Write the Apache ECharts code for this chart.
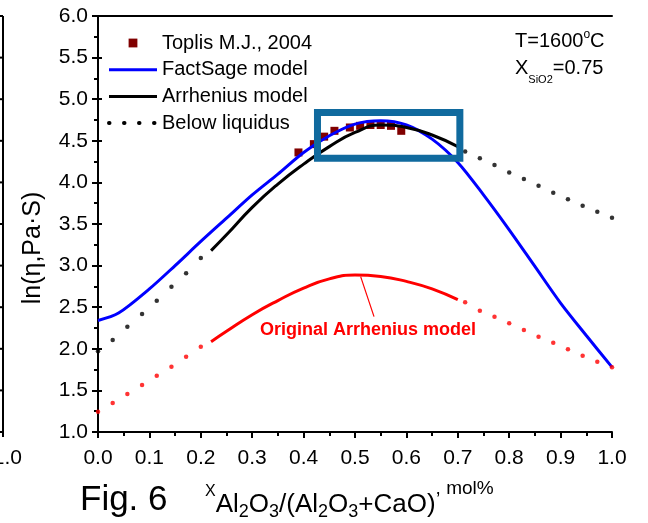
<!DOCTYPE html>
<html>
<head>
<meta charset="utf-8">
<script src="https://cdn.jsdelivr.net/npm/echarts@6/dist/echarts.min.js"></script>
<style>
  html, body { margin: 0; padding: 0; background: #fff; }
  #chart { width: 648px; height: 523px; }
</style>
</head>
<body>
<div id="chart"></div>
<script>
const FONT = '"Liberation Sans", Arial, sans-serif';

// Axis ranges
const xMin = 0, xMax = 1, xStep = 0.1;
const yMin = 1, yMax = 6, yStep = 0.5;

// Toplis M.J., 2004 measurements
const toplisX = [0.39, 0.42, 0.44, 0.46, 0.49, 0.51, 0.53, 0.55, 0.57, 0.59];
const toplisY = [4.36, 4.46, 4.55, 4.62, 4.66, 4.68, 4.69, 4.69, 4.68, 4.62];

// FactSage model
const factX = [0, 0.04, 0.1, 0.15, 0.2, 0.25, 0.3, 0.35, 0.4, 0.45, 0.5, 0.55, 0.6, 0.65, 0.7, 0.75, 0.8, 0.85, 0.9, 0.95, 1.0];
const factY = [2.34, 2.43, 2.72, 3.0, 3.29, 3.57, 3.85, 4.1, 4.36, 4.56, 4.7, 4.74, 4.69, 4.52, 4.24, 3.85, 3.43, 2.99, 2.55, 2.16, 1.78];

// Arrhenius model, liquid range
const arrX = [0.22, 0.25, 0.3, 0.35, 0.4, 0.45, 0.5, 0.55, 0.6, 0.65, 0.7];
const arrY = [3.18, 3.37, 3.7, 3.98, 4.22, 4.43, 4.6, 4.69, 4.66, 4.57, 4.43];

// Arrhenius model below liquidus
const belowLowX  = [0, 0.0286, 0.0571, 0.0857, 0.1143, 0.1429, 0.1714, 0.2];
const belowLowY  = [1.97, 2.106, 2.266, 2.418, 2.578, 2.746, 2.907, 3.09];
const belowHighX = [0.7143, 0.7429, 0.7714, 0.8, 0.8286, 0.8571, 0.8857, 0.9143, 0.9429, 0.9714, 1.0];
const belowHighY = [4.37, 4.29, 4.21, 4.12, 4.04, 3.96, 3.876, 3.797, 3.72, 3.648, 3.576];

// Original Arrhenius model, liquid range
const origX = [0.22, 0.25, 0.3, 0.35, 0.4, 0.45, 0.5, 0.55, 0.6, 0.65, 0.7];
const origY = [2.085, 2.21, 2.41, 2.58, 2.73, 2.84, 2.887, 2.87, 2.81, 2.72, 2.59];

// Original Arrhenius model below liquidus
const origLowX  = [0, 0.0286, 0.0571, 0.0857, 0.1143, 0.1429, 0.1714, 0.2];
const origLowY  = [1.244, 1.35, 1.457, 1.565, 1.677, 1.785, 1.905, 2.025];
const origHighX = [0.7143, 0.7429, 0.7714, 0.8, 0.8286, 0.8571, 0.8857, 0.9143, 0.9429, 0.9714, 1.0];
const origHighY = [2.56, 2.458, 2.386, 2.306, 2.226, 2.145, 2.073, 1.994, 1.917, 1.845, 1.778];

// Highlighted region and arrow pointing at the original model
const boxX = [0.427, 0.704];
const boxY = [4.29, 4.84];
const arrowFrom = [0.511, 2.867];
const arrowTo = [0.537, 2.386];

const zip = (xs, ys) => xs.map((x, i) => [x, ys[i]]);

const chart = echarts.init(document.getElementById('chart'), null, { renderer: 'canvas' });

// Measure text so sub/superscript pieces can be laid out side by side
const ctx = document.createElement('canvas').getContext('2d');
function textWidth(str, size, weight) {
  ctx.font = (weight || 'normal') + ' ' + size + 'px ' + FONT;
  return ctx.measureText(str).width;
}
function runText(x0, pieces) {
  const out = [];
  let x = x0;
  pieces.forEach(p => {
    out.push({
      type: 'text', x: x, y: p.y, silent: true,
      style: { text: p.t, fontSize: p.s, fontFamily: FONT, fill: '#000', verticalAlign: 'middle', align: 'left' }
    });
    x += textWidth(p.t, p.s);
  });
  return out;
}

const labelFmt = v => v.toFixed(1);
const axisLineStyle = { color: '#000', width: 2 };

const graphics = [
  // Temperature and mole fraction annotation
  ...runText(515, [
    { t: 'T=1600', s: 20, y: 41 },
    { t: 'o', s: 12, y: 35 },
    { t: 'C', s: 20, y: 41 }
  ]),
  ...runText(515, [
    { t: 'X', s: 20, y: 68 },
    { t: 'SiO2', s: 11, y: 80 },
    { t: '=0.75', s: 20, y: 68 }
  ]),
  // y axis title
  { type: 'text', x: 33, y: 248, rotation: Math.PI / 2, silent: true,
    style: { text: 'ln(\u03b7,Pa\u00b7S)', fontSize: 25, fontFamily: FONT, fill: '#000',
             align: 'center', verticalAlign: 'middle' } },
  // Caption under the x axis
  { type: 'text', x: 80, y: 500, silent: true,
    style: { text: 'Fig. 6', fontSize: 35, fontFamily: FONT, fill: '#000', verticalAlign: 'middle' } },
  ...runText(205, [
    { t: 'X', s: 16, y: 492 },
    { t: 'Al', s: 26, y: 505 },
    { t: '2', s: 18, y: 512 },
    { t: 'O', s: 26, y: 505 },
    { t: '3', s: 18, y: 512 },
    { t: '/(Al', s: 26, y: 505 },
    { t: '2', s: 18, y: 512 },
    { t: 'O', s: 26, y: 505 },
    { t: '3', s: 18, y: 512 },
    { t: '+CaO)', s: 26, y: 505 },
    { t: ', mol%', s: 19, y: 489 }
  ]),
  // Label of the original model
  { type: 'text', x: 368, y: 330, silent: true,
    style: { text: 'Original Arrhenius model', fontSize: 18, fontWeight: 'bold', fontFamily: FONT,
             fill: '#ff0000', align: 'center', verticalAlign: 'middle' } },
  // Edge of the neighbouring panel
  { type: 'line', silent: true, shape: { x1: 3, y1: 16, x2: 3, y2: 437 }, style: { stroke: '#000', lineWidth: 2 } },
  { type: 'text', x: 22, y: 458, silent: true,
    style: { text: '1.0', fontSize: 21, fontFamily: FONT, fill: '#000', align: 'right', verticalAlign: 'middle' } }
];
for (let k = 0; k <= 10; k++) {
  const y = 16 + k * 41.6;
  graphics.push({ type: 'line', silent: true, shape: { x1: 0, y1: y, x2: 3, y2: y }, style: { stroke: '#000', lineWidth: 2 } });
}

const hiddenSymbol = { opacity: 0 };

const option = {
  backgroundColor: '#fff',
  animation: false,
  textStyle: { fontFamily: FONT },
  grid: { left: 98, right: 36, top: 16, bottom: 91, containLabel: false },
  legend: {
    orient: 'vertical', left: 107, top: 33, padding: 0,
    itemWidth: 48, itemHeight: 11, itemGap: 6.7,
    textStyle: { fontSize: 20, color: '#000', fontFamily: FONT, lineHeight: 20 },
    data: [
      { name: 'Toplis M.J., 2004' },
      { name: 'FactSage model', itemStyle: hiddenSymbol, lineStyle: { width: 3, color: '#0000ff' } },
      { name: 'Arrhenius model', itemStyle: hiddenSymbol, lineStyle: { width: 3, color: '#000' } },
      { name: 'Below liquidus', itemStyle: hiddenSymbol,
        lineStyle: { width: 4, color: '#000', type: [0.5, 14.5], cap: 'round' } }
    ],
    selectedMode: false
  },
  xAxis: [
    {
      type: 'value', min: xMin, max: xMax, interval: xStep,
      axisLine: { show: true, lineStyle: axisLineStyle },
      axisTick: { show: true, inside: false, length: 6, lineStyle: { color: '#000', width: 2 } },
      minorTick: { show: true, splitNumber: 2, length: 4, lineStyle: { color: '#000', width: 2 } },
      axisLabel: { fontSize: 21, color: '#000', margin: 16, formatter: labelFmt, fontFamily: FONT },
      splitLine: { show: false }
    },
    {
      type: 'value', position: 'top', min: xMin, max: xMax, interval: xStep,
      axisLine: { show: true, lineStyle: axisLineStyle },
      axisTick: { show: false }, axisLabel: { show: false }, splitLine: { show: false }
    }
  ],
  yAxis: [
    {
      type: 'value', min: yMin, max: yMax, interval: yStep,
      axisLine: { show: true, lineStyle: axisLineStyle },
      axisTick: { show: true, inside: false, length: 6, lineStyle: { color: '#000', width: 2 } },
      minorTick: { show: true, splitNumber: 2, length: 4, lineStyle: { color: '#000', width: 2 } },
      axisLabel: { fontSize: 21, color: '#000', margin: 10, formatter: labelFmt, fontFamily: FONT },
      splitLine: { show: false }
    },
    {
      type: 'value', position: 'right', min: yMin, max: yMax, interval: yStep,
      axisLine: { show: true, lineStyle: axisLineStyle },
      axisTick: { show: true, inside: false, length: 4, lineStyle: { color: '#000', width: 2 } },
      axisLabel: { show: false }, splitLine: { show: false }
    }
  ],
  series: [
    {
      name: 'Toplis M.J., 2004', type: 'line', z: 1,
      data: zip(toplisX, toplisY),
      symbol: 'rect', symbolSize: 8, showSymbol: true,
      itemStyle: { color: '#800000' },
      lineStyle: { width: 0, opacity: 0 }
    },
    {
      name: 'FactSage model', type: 'line', z: 3, smooth: 0.3,
      data: zip(factX, factY), symbol: 'none',
      lineStyle: { color: '#0000ff', width: 3 }, itemStyle: { color: '#0000ff' }
    },
    {
      name: 'Arrhenius model', type: 'line', z: 3, smooth: 0.5,
      data: zip(arrX, arrY), symbol: 'none',
      lineStyle: { color: '#000', width: 3 }, itemStyle: { color: '#000' }
    },
    {
      name: 'Below liquidus', type: 'line', data: [], symbol: 'none',
      lineStyle: { color: '#000', width: 4, type: [0.5, 14.5], cap: 'round' }, itemStyle: { color: '#000' }
    },
    {
      name: 'Arrhenius below liquidus', type: 'scatter', z: 3,
      data: zip(belowLowX, belowLowY).concat(zip(belowHighX, belowHighY)),
      symbol: 'circle', symbolSize: 4.5, itemStyle: { color: '#000' }, silent: true
    },
    {
      name: 'Original Arrhenius model', type: 'line', z: 3, smooth: 0.5,
      data: zip(origX, origY), symbol: 'none',
      lineStyle: { color: '#ff0000', width: 3 }, itemStyle: { color: '#ff0000' },
      markLine: {
        silent: true, symbol: ['none', 'arrow'], symbolSize: [0, 9],
        lineStyle: { color: '#ff0000', width: 1.2, type: 'solid' }, label: { show: false },
        data: [[{ coord: arrowFrom }, { coord: arrowTo }]]
      }
    },
    {
      name: 'Original below liquidus', type: 'scatter', z: 3,
      data: zip(origLowX, origLowY).concat(zip(origHighX, origHighY)),
      symbol: 'circle', symbolSize: 4.5, itemStyle: { color: '#ff0000' }, silent: true
    },
    {
      name: 'Highlight', type: 'line', data: [], z: 10,
      markArea: {
        silent: true, z: 10,
        itemStyle: { color: 'rgba(0,0,0,0)', borderColor: '#106a9e', borderWidth: 7 },
        data: [[{ coord: [boxX[0], boxY[1]] }, { coord: [boxX[1], boxY[0]] }]]
      }
    }
  ],
  graphic: graphics
};

chart.setOption(option);
</script>
</body>
</html>
